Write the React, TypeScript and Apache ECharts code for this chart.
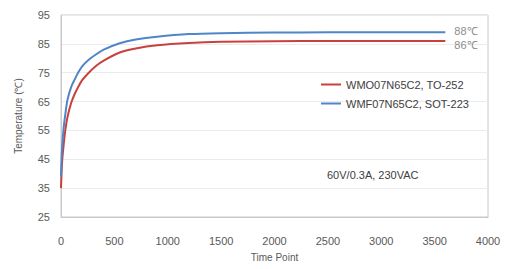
import React, { useEffect, useRef } from "react";
import * as echarts from "echarts";

const timePoints = [0, 5, 12, 25, 40, 60, 95, 130, 160, 200, 260, 330, 400, 550, 700, 900, 1200, 1500, 2000, 2500, 3000, 3600];
const blueValues = [39, 45, 50, 56, 60.5, 65.5, 70, 72.8, 75, 77.3, 79.5, 81.4, 83, 85.2, 86.5, 87.5, 88.4, 88.7, 88.9, 89.0, 89.0, 89.0];
const redValues = [35, 40, 45, 50, 55, 59.5, 64.5, 67.8, 70, 72.5, 75, 77.4, 79.2, 82.0, 83.4, 84.5, 85.3, 85.7, 85.9, 86.0, 86.0, 86.0];
const redName = "WMO07N65C2, TO-252";
const blueName = "WMF07N65C2, SOT-223";
const redEnd = "86℃";
const blueEnd = "88℃";
const note = "60V/0.3A, 230VAC";

export default function App() {
  const ref = useRef<HTMLDivElement>(null);
  useEffect(() => {
    document.body.style.margin = "0";
    const chart = echarts.init(ref.current!, null, { renderer: "svg" });
    const font = "Liberation Sans";
    chart.setOption({
      animation: false,
      backgroundColor: "#ffffff",
      textStyle: { fontFamily: font },
      grid: { left: 61, right: 18, top: 15, bottom: 52, show: true, borderColor: "#c8c8c8", borderWidth: 1 },
      legend: {
        orient: "vertical",
        left: 316,
        top: 74,
        itemWidth: 20,
        itemHeight: 2,
        itemGap: 8,
        icon: "rect",
        textStyle: { fontFamily: font, fontSize: 11, color: "#404040" },
        data: [redName, blueName],
      },
      xAxis: {
        type: "value",
        min: 0,
        max: 4000,
        interval: 500,
        name: "Time Point",
        nameLocation: "middle",
        nameGap: 35,
        nameTextStyle: { fontFamily: font, fontSize: 10, color: "#595959" },
        axisLine: { show: true, lineStyle: { color: "#c8c8c8" } },
        axisTick: { show: false },
        splitLine: { show: false },
        axisLabel: { fontFamily: font, fontSize: 11, color: "#595959", margin: 18, formatter: (v: number) => String(v) },
      },
      yAxis: {
        type: "value",
        min: 25,
        max: 95,
        interval: 10,
        name: "Temperature (℃)",
        nameLocation: "middle",
        nameGap: 38,
        nameTextStyle: { fontFamily: font, fontSize: 10, color: "#595959" },
        axisLine: { show: true, lineStyle: { color: "#c8c8c8" } },
        axisTick: { show: false },
        splitLine: { show: true, lineStyle: { color: "#ebebeb" } },
        axisLabel: { fontFamily: font, fontSize: 11, color: "#595959", margin: 11 },
      },
      series: [
        {
          name: redName,
          type: "line",
          smooth: 0.25,
          showSymbol: false,
          symbol: "none",
          color: "#c9403f",
          lineStyle: { width: 2, color: "#c9403f" },
          data: timePoints.map((t, i) => [t, redValues[i]]),
          endLabel: { show: true, formatter: redEnd, color: "#8c8c8c", fontSize: 11, fontFamily: font, offset: [1, 4] },
          z: 3,
        },
        {
          name: blueName,
          type: "line",
          smooth: 0.25,
          showSymbol: false,
          symbol: "none",
          color: "#4f86c6",
          lineStyle: { width: 2, color: "#4f86c6" },
          data: timePoints.map((t, i) => [t, blueValues[i]]),
          endLabel: { show: true, formatter: blueEnd, color: "#8c8c8c", fontSize: 11, fontFamily: font, offset: [1, -1] },
          z: 4,
        },
      ],
      graphic: [
        {
          type: "text",
          left: 327,
          top: 169,
          style: { text: note, fontFamily: font, fontSize: 11, fill: "#404040" },
        },
      ],
    });
    return () => chart.dispose();
  }, []);
  return <div ref={ref} style={{ width: 506, height: 269 }} />;
}
